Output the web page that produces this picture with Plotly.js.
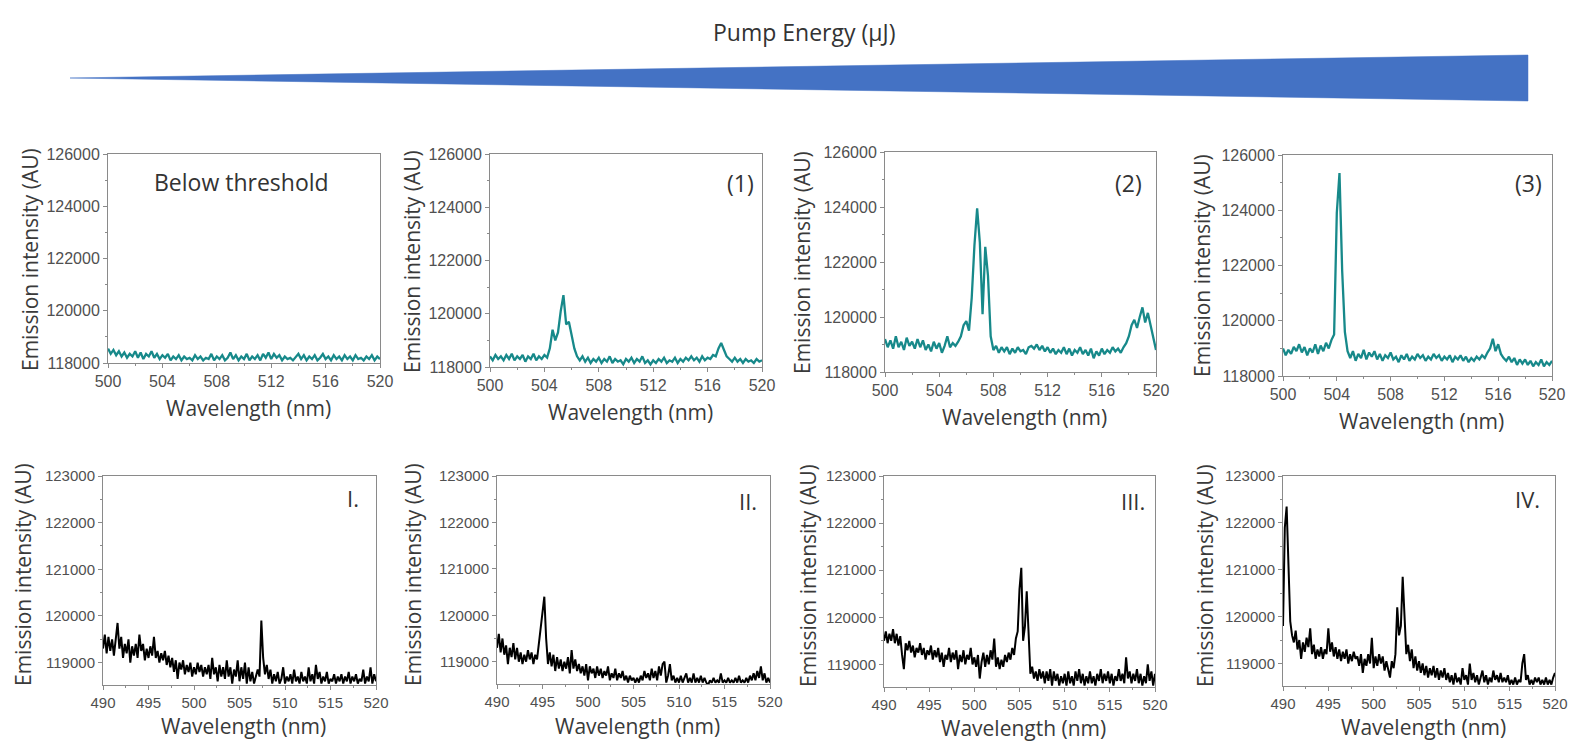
<!DOCTYPE html>
<html><head><meta charset="utf-8">
<script src="https://cdn.plot.ly/plotly-3.0.1.min.js"></script>
<style>html,body{margin:0;padding:0;background:#fff}#chart{width:1570px;height:745px}</style>
</head><body><div id="chart"></div>
<script>
// ---------- DATA ----------
const topWavelength = [500,500.2,500.4,500.6,500.8,501,501.2,501.4,501.6,501.8,502,502.2,502.4,502.6,502.8,503,503.2,503.4,503.6,503.8,504,504.2,504.4,504.6,504.8,505,505.2,505.4,505.6,505.8,506,506.2,506.4,506.6,506.8,507,507.2,507.4,507.6,507.8,508,508.2,508.4,508.6,508.8,509,509.2,509.4,509.6,509.8,510,510.2,510.4,510.6,510.8,511,511.2,511.4,511.6,511.8,512,512.2,512.4,512.6,512.8,513,513.2,513.4,513.6,513.8,514,514.2,514.4,514.6,514.8,515,515.2,515.4,515.6,515.8,516,516.2,516.4,516.6,516.8,517,517.2,517.4,517.6,517.8,518,518.2,518.4,518.6,518.8,519,519.2,519.4,519.6,519.8,520];

const bottomWavelength = [490,490.2,490.4,490.6,490.8,491,491.2,491.4,491.6,491.8,492,492.2,492.4,492.6,492.8,493,493.2,493.4,493.6,493.8,494,494.2,494.4,494.6,494.8,495,495.2,495.4,495.6,495.8,496,496.2,496.4,496.6,496.8,497,497.2,497.4,497.6,497.8,498,498.2,498.4,498.6,498.8,499,499.2,499.4,499.6,499.8,500,500.2,500.4,500.6,500.8,501,501.2,501.4,501.6,501.8,502,502.2,502.4,502.6,502.8,503,503.2,503.4,503.6,503.8,504,504.2,504.4,504.6,504.8,505,505.2,505.4,505.6,505.8,506,506.2,506.4,506.6,506.8,507,507.2,507.4,507.6,507.8,508,508.2,508.4,508.6,508.8,509,509.2,509.4,509.6,509.8,510,510.2,510.4,510.6,510.8,511,511.2,511.4,511.6,511.8,512,512.2,512.4,512.6,512.8,513,513.2,513.4,513.6,513.8,514,514.2,514.4,514.6,514.8,515,515.2,515.4,515.6,515.8,516,516.2,516.4,516.6,516.8,517,517.2,517.4,517.6,517.8,518,518.2,518.4,518.6,518.8,519,519.2,519.4,519.6,519.8,520];

const belowThresholdIntensity = [118550,118350,118500,118300,118450,118250,118400,118200,118350,118250,118450,118200,118400,118150,118350,118250,118450,118200,118350,118150,118300,118200,118350,118100,118250,118150,118300,118100,118250,118150,118200,118100,118300,118150,118250,118100,118200,118150,118350,118100,118250,118150,118300,118100,118200,118400,118150,118300,118100,118250,118150,118350,118100,118250,118150,118300,118100,118350,118200,118400,118150,118350,118200,118300,118100,118250,118150,118200,118100,118250,118350,118150,118300,118100,118250,118150,118300,118100,118200,118350,118150,118250,118100,118300,118150,118250,118100,118300,118150,118250,118100,118300,118150,118200,118100,118250,118150,118300,118100,118250,118150];

const pump1Intensity = [118400,118250,118450,118300,118400,118250,118450,118300,118500,118250,118400,118300,118450,118200,118400,118300,118500,118250,118400,118300,118450,118350,118700,119400,119000,119300,120100,120700,119600,119700,119200,118700,118400,118250,118400,118200,118350,118150,118300,118200,118350,118150,118300,118200,118400,118150,118300,118200,118250,118100,118300,118200,118350,118150,118300,118200,118400,118150,118250,118100,118250,118150,118300,118200,118350,118150,118250,118200,118350,118150,118300,118200,118350,118250,118400,118250,118350,118200,118400,118250,118350,118300,118450,118400,118700,118900,118650,118400,118300,118200,118350,118200,118300,118150,118300,118200,118250,118150,118300,118200,118250];

const pump2Intensity = [119200,118900,119150,118850,119300,118900,119100,118800,119250,118950,119100,118850,119200,118900,119150,118800,119000,118750,119100,118850,119050,118700,118950,119300,118900,119050,118950,119100,119300,119700,119850,119500,120700,122600,123950,122700,120100,122550,121500,119300,118800,118950,118700,118900,118750,118900,118650,118850,118700,118900,118750,118800,118650,118900,118950,118850,119000,118800,118950,118750,118900,118700,118850,118650,118800,118700,118900,118650,118850,118600,118800,118700,118900,118650,118800,118600,118850,118500,118750,118600,118850,118650,118800,118700,118900,118750,118850,118700,118900,119050,119300,119700,119900,119600,120000,120350,119800,120150,119700,119300,118800];

const pump3Intensity = [119000,118750,118950,118800,119050,118900,119150,118850,119050,118750,119000,118850,119150,118800,119100,118900,119200,119000,119300,119500,123900,125350,121800,119600,118900,118650,118900,118550,118800,118650,118950,118600,118850,118700,118900,118600,118800,118550,118750,118650,118850,118600,118700,118500,118750,118600,118800,118550,118700,118600,118800,118650,118750,118550,118700,118600,118800,118650,118750,118550,118700,118600,118750,118500,118700,118600,118750,118550,118700,118500,118650,118550,118700,118600,118750,118650,118850,119000,119350,118900,119150,118800,118650,118550,118700,118500,118650,118400,118600,118450,118600,118400,118550,118350,118500,118400,118600,118350,118500,118400,118550];

const sampleIIntensity = [119300,119600,119200,119550,119250,119500,119150,119450,119850,119300,119550,119100,119400,119200,119500,119000,119350,119150,119400,119100,119600,119250,119400,119050,119300,119100,119350,119150,119550,119100,119250,119000,119200,119050,119250,118950,119150,118900,119100,118800,119050,118650,119000,118850,119050,118750,118950,118800,119000,118700,118900,118750,119000,118800,118950,118700,118900,118750,118950,118650,119100,118750,118900,118600,118950,118700,118900,118650,119050,118700,118900,118550,118850,118700,119050,118600,118900,118650,119000,118550,118900,118600,118800,118550,118700,118850,118700,119900,119100,118750,118950,118650,118850,118550,118750,118600,118800,118550,118650,118900,118550,118700,118600,118750,118550,118850,118600,118700,118550,118800,118600,118700,118550,118900,118600,118750,118550,118950,118650,118800,118550,118700,118600,118800,118550,118650,118600,118750,118550,118700,118600,118750,118550,118700,118600,118800,118550,118700,118600,118750,118550,118650,118600,118850,118550,118700,118600,118900,118550,118750,118600];

const sampleIIIntensity = [119300,119600,119200,119500,119150,119350,118950,119300,119100,119400,119050,119300,119000,119200,118950,119150,119000,119250,119050,119200,118950,119150,119050,119400,119700,120000,120400,119500,118950,119200,118900,119150,118800,119100,118850,119050,118800,119000,118850,119100,118750,119250,118850,119050,118800,118950,118750,118900,118700,118950,118600,118900,118750,118850,118650,118900,118700,118850,118650,118800,118700,118900,118600,118750,118650,118850,118600,118750,118650,118800,118600,118700,118550,118700,118600,118650,118550,118650,118550,118700,118600,118800,118650,118750,118600,118850,118650,118800,118600,118900,118700,118950,119000,118550,118700,118950,118600,118700,118550,118650,118550,118700,118550,118650,118750,118550,118650,118550,118750,118550,118650,118550,118700,118550,118650,118550,118500,118600,118550,118650,118550,118600,118550,118750,118550,118600,118550,118650,118550,118600,118550,118650,118550,118700,118550,118600,118550,118650,118550,118700,118600,118750,118600,118800,118650,118900,118600,118750,118550,118650,118550];

const sampleIIIIntensity = [119500,119700,119450,119650,119500,119750,119450,119650,119400,119600,119200,118900,119450,119300,119500,119250,119400,119150,119350,119250,119450,119200,119350,119100,119300,119200,119400,119100,119300,119150,119350,119050,119250,118950,119200,119100,119350,119050,119250,119100,119300,118900,119200,119050,119300,119000,119200,119100,119350,119000,119150,118950,119200,118700,119050,119250,118950,119200,119000,119300,119100,119550,118950,119150,118900,119100,118950,119200,119050,119250,119100,119350,119200,119550,119700,120600,121050,119500,119800,120550,119700,118800,118950,118700,118850,118650,118900,118700,118850,118600,118850,118650,118900,118550,118850,118650,118800,118550,118750,118600,118800,118550,118850,118600,118750,118550,118850,118650,118900,118600,118800,118550,118750,118600,118850,118600,118750,118550,118800,118650,118900,118600,118800,118650,118850,118600,118800,118550,118750,118650,118900,118650,118800,118600,119150,118700,118850,118600,118800,118650,118900,118600,118800,118550,118750,118600,119000,118650,118850,118550,118800];

const sampleIVIntensity = [119800,121900,122350,121000,119900,119600,119450,119700,119300,119500,119100,119450,119250,119550,119350,119750,119200,119400,119100,119300,119150,119350,119100,119300,119200,119750,119250,119450,119150,119350,119100,119300,119050,119250,119100,119300,119000,119200,119050,119250,119100,119150,118950,119200,118800,119100,118950,119200,119000,119550,118900,119150,118950,119200,119000,119150,118850,119050,118900,118700,119050,118900,119200,120200,119600,119800,120850,120000,119200,119400,119050,119300,118900,119150,118850,119050,118800,119000,118750,118950,118700,118900,118750,118950,118700,118900,118650,118850,118700,118900,118650,118800,118600,118750,118550,118800,118600,118700,118550,118900,118650,118750,118550,119000,118650,118800,118600,118750,118550,118700,118850,118600,118750,118550,118700,118600,118850,118650,118750,118600,118800,118600,118700,118600,118750,118550,118650,118550,118700,118550,118650,118600,119000,119200,118650,118750,118550,118650,118550,118700,118600,118700,118550,118650,118550,118700,118550,118650,118550,118700,118800];

const panelLabels = ['Below threshold', '(1)', '(2)', '(3)', 'I.', 'II.', 'III.', 'IV.'];
const topXTicks = [500, 504, 508, 512, 516, 520];
const topYTicks = [118000, 120000, 122000, 124000, 126000];
const bottomXTicks = [490, 495, 500, 505, 510, 515, 520];
const bottomYTicks = [119000, 120000, 121000, 122000, 123000];
const xAxisTitle = 'Wavelength (nm)';
const yAxisTitle = 'Emission intensity (AU)';
const headerTitle = 'Pump Energy (μJ)';

// ---------- LAYOUT ----------
const W = 1570, H = 745;
const px = v => v / W;
const py = v => 1 - v / H;
const TEAL = '#17898a';

const panels = [
  {x: topWavelength, y: belowThresholdIntensity, color: TEAL, w: 2.3, box: [108,154,380,363], xr: [500,520], yr: [118000,126000], xt: topXTicks, yt: topYTicks, xminor: 2, yminor: 1000, lab: [241,182], xtY: 408, ytX: 30, ytY: 260, labSize: 23, xfs: 16, yfs: 16},
  {x: topWavelength, y: pump1Intensity, color: TEAL, w: 2.3, box: [490,154,762,367], xr: [500,520], yr: [118000,126000], xt: topXTicks, yt: topYTicks, xminor: 2, yminor: 1000, lab: [740,183], xtY: 412, ytX: 412, ytY: 262, labSize: 23, xfs: 16, yfs: 16},
  {x: topWavelength, y: pump2Intensity, color: TEAL, w: 2.3, box: [885,152,1156,372], xr: [500,520], yr: [118000,126000], xt: topXTicks, yt: topYTicks, xminor: 2, yminor: 1000, lab: [1128,183], xtY: 417, ytX: 802, ytY: 263, labSize: 23, xfs: 16, yfs: 16},
  {x: topWavelength, y: pump3Intensity, color: TEAL, w: 2.3, box: [1283,155,1552,376], xr: [500,520], yr: [118000,126000], xt: topXTicks, yt: topYTicks, xminor: 2, yminor: 1000, lab: [1528,183], xtY: 421, ytX: 1202, ytY: 266, labSize: 23, xfs: 16, yfs: 16},
  {x: bottomWavelength, y: sampleIIntensity, color: '#000', w: 2, box: [103,476,376,685], xr: [490,520], yr: [118520,123000], xt: bottomXTicks, yt: bottomYTicks, xminor: 2.5, yminor: 500, lab: [353,498], xtY: 726, ytX: 23, ytY: 575, labSize: 22, xfs: 15, yfs: 15},
  {x: bottomWavelength, y: sampleIIIntensity, color: '#000', w: 2, box: [497,476,770,684], xr: [490,520], yr: [118520,123000], xt: bottomXTicks, yt: bottomYTicks, xminor: 2.5, yminor: 500, lab: [748,501], xtY: 726, ytX: 413, ytY: 575, labSize: 22, xfs: 15, yfs: 15},
  {x: bottomWavelength, y: sampleIIIIntensity, color: '#000', w: 2, box: [884,476,1155,687], xr: [490,520], yr: [118520,123000], xt: bottomXTicks, yt: bottomYTicks, xminor: 2.5, yminor: 500, lab: [1133,501], xtY: 728, ytX: 808, ytY: 576, labSize: 22, xfs: 15, yfs: 15},
  {x: bottomWavelength, y: sampleIVIntensity, color: '#000', w: 2, box: [1283,476,1555,686], xr: [490,520], yr: [118520,123000], xt: bottomXTicks, yt: bottomYTicks, xminor: 2.5, yminor: 500, lab: [1527,499], xtY: 727, ytX: 1205, ytY: 576, labSize: 22, xfs: 15, yfs: 15}
];

const AXC = '#8a8a8a';
const tickFontFamily = '"Liberation Sans", Arial, sans-serif';
const titleFamily = '"Open Sans", "Noto Sans", sans-serif';

const data = [];
const layout = {
  width: W, height: H,
  margin: {l: 0, r: 0, t: 0, b: 0},
  paper_bgcolor: '#fff', plot_bgcolor: '#fff',
  showlegend: false,
  annotations: [],
  shapes: []
};

panels.forEach((p, i) => {
  const n = i === 0 ? '' : String(i + 1);
  data.push({
    type: 'scatter', mode: 'lines', x: p.x, y: p.y,
    xaxis: 'x' + n, yaxis: 'y' + n,
    line: {color: p.color, width: p.w}, hoverinfo: 'skip'
  });
  const [l, t, r, b] = p.box;
  const common = {
    showline: true, linecolor: AXC, linewidth: 1, mirror: true,
    ticks: 'outside', ticklen: 4, tickwidth: 1, tickcolor: AXC,
    showgrid: false, zeroline: false, fixedrange: true
  };
  layout['xaxis' + n] = Object.assign({}, common, {
    domain: [px(l), px(r)], range: p.xr, anchor: 'y' + n,
    tickmode: 'array', tickvals: p.xt,
    tickfont: {family: tickFontFamily, size: p.xfs, color: '#505050'},
    minor: {ticks: 'outside', ticklen: 2, tickcolor: AXC, dtick: p.xminor, tick0: p.xr[0], showgrid: false}
  });
  layout['yaxis' + n] = Object.assign({}, common, {
    domain: [py(b), py(t)], range: p.yr, anchor: 'x' + n,
    tickmode: 'array', tickvals: p.yt, tickformat: 'd',
    tickfont: {family: tickFontFamily, size: p.yfs, color: '#505050'},
    minor: {ticks: 'outside', ticklen: 2, tickcolor: AXC, dtick: p.yminor, tick0: 118000, showgrid: false}
  });
  layout.annotations.push({
    xref: 'paper', yref: 'paper', x: px(p.lab[0]), y: py(p.lab[1]),
    xanchor: 'center', yanchor: 'middle', showarrow: false,
    text: panelLabels[i], font: {family: titleFamily, size: p.labSize, color: '#333'}
  });
  layout.annotations.push({
    xref: 'paper', yref: 'paper', x: px((l + r) / 2 + 4), y: py(p.xtY),
    xanchor: 'center', yanchor: 'middle', showarrow: false,
    text: xAxisTitle, font: {family: titleFamily, size: 21, color: '#3a3a3a'}
  });
  layout.annotations.push({
    xref: 'paper', yref: 'paper', x: px(p.ytX), y: py(p.ytY),
    xanchor: 'center', yanchor: 'middle', showarrow: false, textangle: -90,
    text: yAxisTitle, font: {family: titleFamily, size: 21, color: '#3a3a3a'}
  });
});

layout.annotations.push({
  xref: 'paper', yref: 'paper', x: px(804), y: py(32),
  xanchor: 'center', yanchor: 'middle', showarrow: false,
  text: headerTitle, font: {family: titleFamily, size: 23, color: '#333'}
});
layout.shapes.push({
  type: 'path', xref: 'paper', yref: 'paper',
  path: `M ${px(70)} ${py(78)} L ${px(1528)} ${py(55)} L ${px(1528)} ${py(101)} Z`,
  fillcolor: '#4472C4', line: {color: '#4472C4', width: 0.5}
});

Plotly.newPlot('chart', data, layout, {displayModeBar: false, staticPlot: true});
</script>
</body></html>
